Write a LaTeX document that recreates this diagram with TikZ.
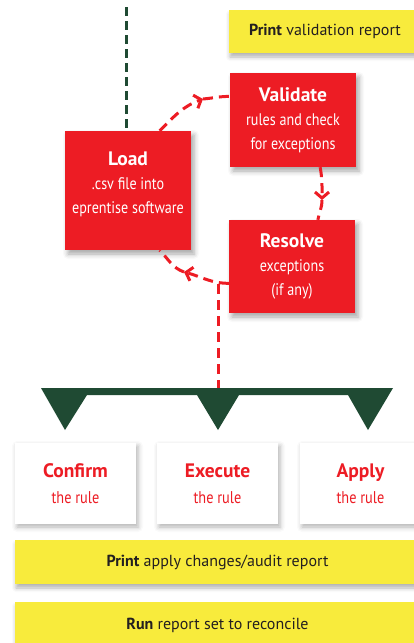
\documentclass[tikz,border=0pt]{standalone}
\usepackage{fontspec}
\setmainfont{PT Sans}
\newfontfamily\narrowFont{PT Sans}[FakeStretch=0.84]
\usetikzlibrary{arrows.meta,calc,shadows.blur}
\definecolor{stepRed}{HTML}{ED1C24}
\definecolor{noteYellow}{HTML}{F8EB3C}
\definecolor{barGreen}{HTML}{1F4A33}
\definecolor{noteText}{HTML}{231F20}

\begin{document}
\begin{tikzpicture}
		[x=1pt,y=-1pt,
		redBox/.style={shape=rectangle,fill=stepRed,text=white,align=center,minimum width=126pt,inner sep=0pt,font=\narrowFont\fontsize{16.8}{24}\selectfont,blur shadow={shadow xshift=3pt,shadow yshift=-4pt,shadow blur radius=5pt,shadow opacity=35}},
		whiteBox/.style={shape=rectangle,fill=white,text=stepRed,align=center,minimum width=121pt,minimum height=81pt,inner sep=0pt,font=\narrowFont\fontsize{17}{26}\selectfont,blur shadow={shadow xshift=2pt,shadow yshift=-3pt,shadow blur radius=5pt,shadow opacity=30}},
		noteBox/.style={shape=rectangle,fill=noteYellow,text=noteText,inner sep=0pt,font=\fontsize{16}{20}\selectfont,blur shadow={shadow xshift=1pt,shadow yshift=-4pt,shadow blur radius=4pt,shadow opacity=30}},
		loopLine/.style={draw=stepRed,line width=3pt,dash pattern=on 10pt off 6pt},
		loopTip/.style={-{Straight Barb[length=6pt,width=14pt]}},
		trunkLine/.style={draw=barGreen,line width=3pt,dash pattern=on 9pt off 5pt}]
		\clip (0,0) rectangle (414,643);
		%% notes
		\node (printCheck) at (325,31.5) [noteBox,minimum width=192pt,minimum height=43pt] {\textbf{Print} validation report};
		\node (printAudit) at (217.5,562) [noteBox,minimum width=405pt,minimum height=44pt] {\textbf{Print} apply changes/audit report};
		\node (runReport) at (217.5,625) [noteBox,minimum width=405pt,minimum height=46pt] {\textbf{Run} report set to reconcile};
		%% red steps
		\foreach \nodename/\x/\y/\h/\heading/\body in {
			Validate/293/120/94/Validate/{rules and check\\for exceptions},
			Resolve/292/266.5/93/Resolve/{exceptions\\(if any)},
			Load/128/190.5/119/Load/{.csv file into\\eprentise software\\[-9pt]\mbox{}}}
		{
			\node (\nodename) at (\x,\y) [redBox,minimum height=\h pt] {{\normalfont\fontsize{19.5}{24}\selectfont\bfseries\heading}\\\body};
		}
		%% rule steps
		\foreach \nodename/\x in {Confirm/75.5, Execute/217.5, Apply/360.5}
		{
			\node (\nodename) at (\x,483.5) [whiteBox] {{\normalfont\fontsize{19.5}{26}\selectfont\bfseries\nodename}\\the rule};
		}
		%% green trunk and bar
		\coordinate (trunkTop) at (126,7);
		\draw[trunkLine] (trunkTop) -- (trunkTop |- Load.north);
		\coordinate (barJoin) at (218,388);
		\fill[barGreen] (41,388) -- (393,388) -- (368,430) -- (348,395) -- (239,395) -- (218,430)
			-- (197,395) -- (87,395) -- (65,430) -- cycle;
		%% loop
		\coordinate (tipA) at (203,99);
		\coordinate (tipB) at (322,200);
		\coordinate (tipC) at (184,272);
		\coordinate (loopJoin) at (218,284);
		\path
			($(Load.north)!0.5!(Load.north east)$) edge[loopLine,loopTip,out=45,in=200] (tipA)
			(tipA) edge[loopLine,out=5,in=180] ($(Validate.north west)!0.25!(Validate.south west)$)
			($(Validate.south)!0.43!(Validate.south east)$) edge[loopLine,loopTip,out=-80,in=90] (tipB)
			(tipB) edge[loopLine,out=-90,in=80] ($(Resolve.north)!0.41!(Resolve.north east)$)
			($(Resolve.north west)!0.68!(Resolve.south west)$) edge[loopLine,loopTip,out=180,in=-15] (tipC)
			(tipC) edge[loopLine,out=160,in=-45] ($(Load.south)!0.5!(Load.south east)$)
			(loopJoin) edge[loopLine] (barJoin);
	\end{tikzpicture}
\end{document}
